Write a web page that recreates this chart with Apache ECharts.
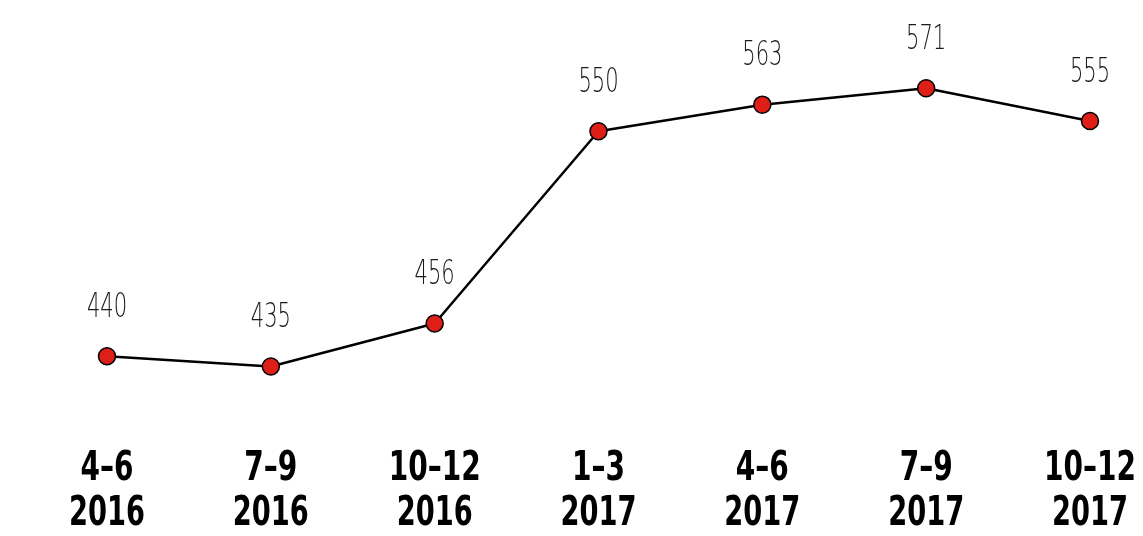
<!DOCTYPE html>
<html><head><meta charset="utf-8">
<script src="https://cdn.jsdelivr.net/npm/echarts@6/dist/echarts.min.js"></script>
<style>html,body{margin:0;padding:0;background:#fff}#c{width:1143px;height:536px}</style>
</head><body><div id="c"></div>
<script>
const periods = ['4–6', '7–9', '10–12', '1–3', '4–6', '7–9', '10–12'];
const years = ['2016', '2016', '2016', '2017', '2017', '2017', '2017'];
const values = [440, 435, 456, 550, 563, 571, 555];
const Y_MIN = 400, Y_MAX = 600;

const categories = periods.map((p, i) => p + ' ' + years[i]);
const chart = echarts.init(document.getElementById('c'));

function valueLabels(params, api) {
  const i = api.value(0);
  const p = api.coord([i, api.value(1)]);
  return {
    type: 'text', x: p[0], y: p[1] - 48, scaleX: 0.62,
    style: {
      text: String(values[i]),
      font: '200 34px "DejaVu Sans", sans-serif',
      fill: '#1a1a1a', textAlign: 'center', textVerticalAlign: 'middle'
    }
  };
}
function axisLabels(params, api) {
  const i = api.value(0);
  const p = api.coord([i, Y_MIN]);
  const font = 'bold 41px "DejaVu Sans Condensed", "DejaVu Sans", sans-serif';
  return {
    type: 'group',
    children: [
      { type: 'text', x: p[0], y: p[1] + 31, scaleX: 0.76,
        style: { text: periods[i], font, fill: '#000', textAlign: 'center', textVerticalAlign: 'middle' } },
      { type: 'text', x: p[0], y: p[1] + 76, scaleX: 0.74,
        style: { text: years[i], font, fill: '#000', textAlign: 'center', textVerticalAlign: 'middle' } }
    ]
  };
}

chart.setOption({
  backgroundColor: '#fff',
  animation: false,
  grid: { left: 107, right: 53, top: 29, bottom: 98, outerBoundsMode: 'none', containLabel: false },
  xAxis: {
    type: 'category', data: categories, boundaryGap: false,
    axisLine: { show: false }, axisTick: { show: false }, splitLine: { show: false },
    axisLabel: { show: false }
  },
  yAxis: { type: 'value', min: Y_MIN, max: Y_MAX, show: false },
  series: [{
    type: 'line', data: values,
    symbol: 'circle', symbolSize: 17,
    lineStyle: { color: '#000', width: 2.5 },
    itemStyle: { color: '#de1f17', borderColor: '#000', borderWidth: 1.5 },
    label: { show: false },
    z: 3
  }, {
    type: 'custom', renderItem: valueLabels, clip: false,
    data: values.map((v, i) => [i, v]), z: 4, silent: true
  }, {
    type: 'custom', renderItem: axisLabels, clip: false,
    data: values.map((v, i) => [i, Y_MIN]), z: 4, silent: true
  }]
});
</script></body></html>
